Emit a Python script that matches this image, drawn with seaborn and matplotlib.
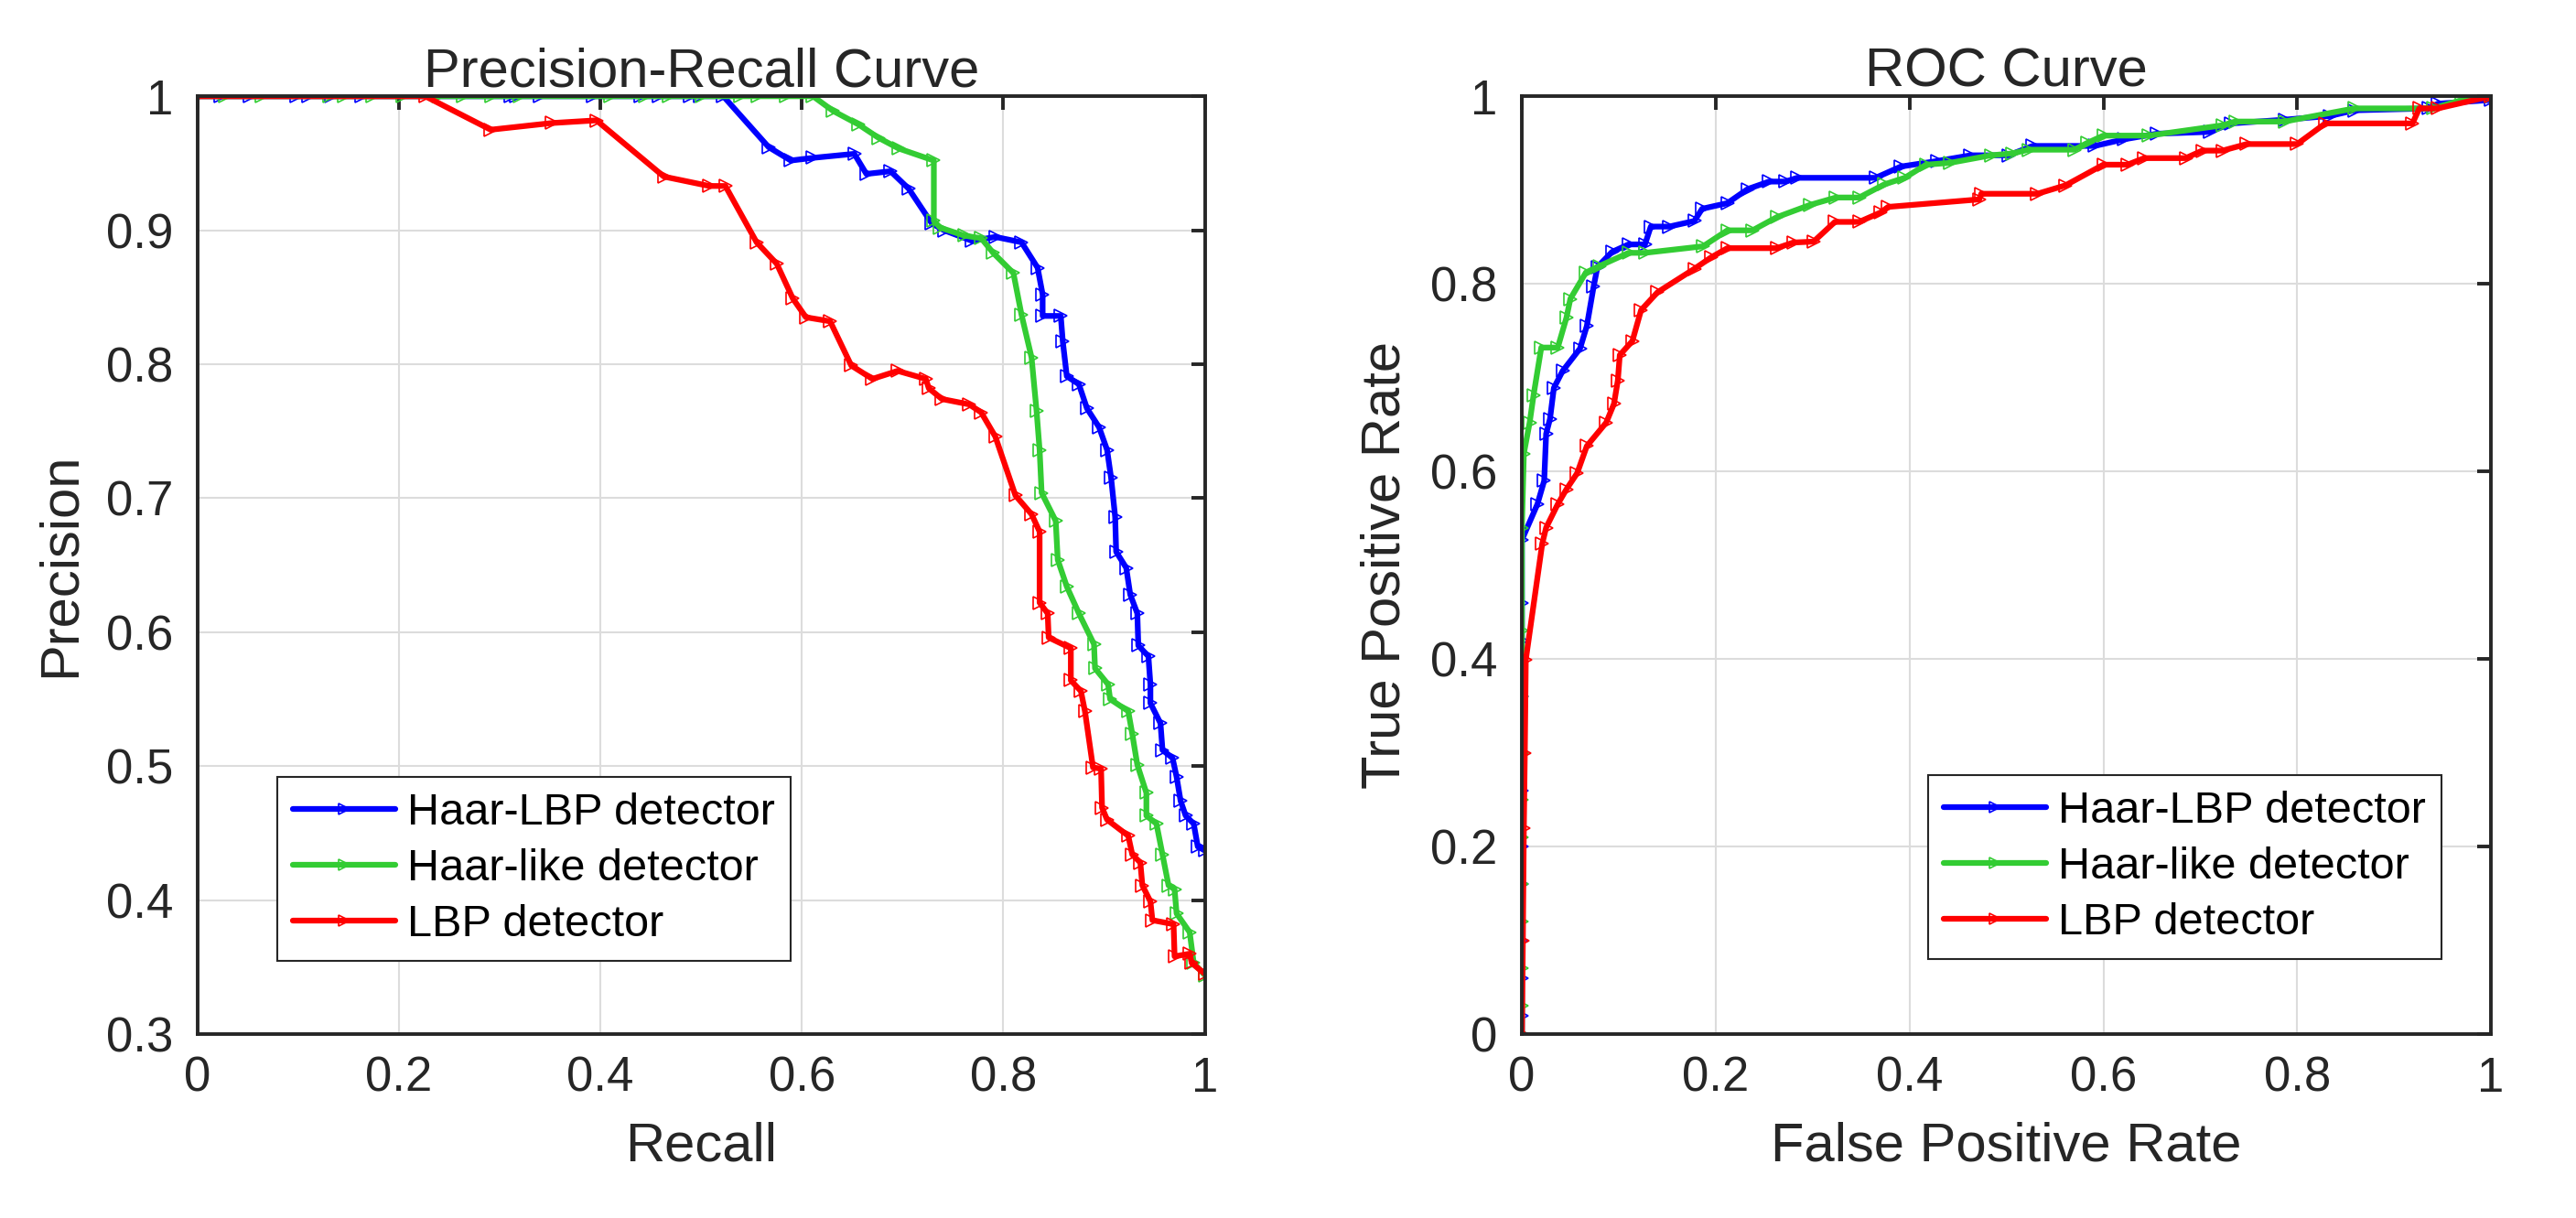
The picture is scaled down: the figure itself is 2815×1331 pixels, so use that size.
import numpy as np
import pandas as pd
import matplotlib
matplotlib.use("Agg")
import matplotlib.pyplot as plt
import seaborn as sns

# ---- Precision-Recall data (recall, precision) ----
pr_haarlbp_recall = [0, 0.023, 0.052, 0.098, 0.110, 0.133, 0.163, 0.311, 0.316, 0.340, 0.393,
                     0.440, 0.458, 0.489, 0.499, 0.522, 0.567, 0.589, 0.611, 0.652, 0.664, 0.688,
                     0.706, 0.729, 0.741, 0.769, 0.792, 0.818, 0.834, 0.839, 0.839, 0.857, 0.859,
                     0.863, 0.875, 0.883, 0.895, 0.903, 0.907, 0.911, 0.912, 0.922, 0.926, 0.933,
                     0.934, 0.944, 0.946, 0.946, 0.956, 0.958, 0.968, 0.972, 0.976, 0.981, 0.989,
                     0.993, 1.0]
pr_haarlbp_prec = [1, 1, 1, 1, 1, 1, 1, 1, 1, 1, 1,
                   1, 1, 1, 1, 1, 0.962, 0.952, 0.954, 0.957, 0.942, 0.944,
                   0.931, 0.905, 0.900, 0.892, 0.895, 0.891, 0.872, 0.852, 0.836, 0.836, 0.817,
                   0.791, 0.785, 0.767, 0.753, 0.736, 0.715, 0.686, 0.660, 0.648, 0.628, 0.614,
                   0.590, 0.582, 0.561, 0.547, 0.532, 0.512, 0.506, 0.492, 0.474, 0.463, 0.457,
                   0.440, 0.437]

pr_haarlike_recall = [0, 0.027, 0.064, 0.131, 0.145, 0.174, 0.204, 0.239, 0.264, 0.292, 0.320,
                      0.410, 0.444, 0.468, 0.501, 0.539, 0.556, 0.584, 0.611, 0.631, 0.656,
                      0.676, 0.696, 0.731, 0.731, 0.737, 0.761, 0.778, 0.790, 0.810, 0.818,
                      0.828, 0.833, 0.836, 0.838, 0.852, 0.854, 0.863, 0.875, 0.890, 0.891,
                      0.904, 0.906, 0.924, 0.928, 0.933, 0.942, 0.942, 0.952, 0.958, 0.964,
                      0.970, 0.972, 0.985, 0.989, 1.0]
pr_haarlike_prec = [1, 1, 1, 1, 1, 1, 1, 1, 1, 1, 1,
                    1, 1, 1, 1, 1, 1, 1, 1, 0.989, 0.979,
                    0.969, 0.961, 0.952, 0.907, 0.902, 0.896, 0.894, 0.883, 0.868, 0.837,
                    0.805, 0.765, 0.736, 0.704, 0.683, 0.654, 0.634, 0.614, 0.591, 0.573,
                    0.561, 0.550, 0.541, 0.524, 0.501, 0.480, 0.463, 0.457, 0.434, 0.411,
                    0.408, 0.390, 0.376, 0.353, 0.344]

pr_lbp_recall = [0, 0.226, 0.291, 0.352, 0.396, 0.463, 0.508, 0.524, 0.555, 0.575, 0.591,
                 0.604, 0.628, 0.649, 0.670, 0.695, 0.723, 0.726, 0.739, 0.766, 0.778, 0.792,
                 0.812, 0.828, 0.836, 0.836, 0.844, 0.845, 0.867, 0.867, 0.877, 0.881, 0.889,
                 0.897, 0.898, 0.903, 0.924, 0.928, 0.936, 0.938, 0.946, 0.948, 0.969, 0.970,
                 0.985, 0.987, 1.0]
pr_lbp_prec = [1, 1, 0.975, 0.980, 0.982, 0.940, 0.933, 0.933, 0.891, 0.875, 0.849,
               0.835, 0.832, 0.799, 0.789, 0.795, 0.789, 0.782, 0.774, 0.770, 0.764, 0.746,
               0.702, 0.688, 0.675, 0.622, 0.614, 0.596, 0.588, 0.564, 0.556, 0.541, 0.499,
               0.498, 0.469, 0.460, 0.448, 0.434, 0.428, 0.411, 0.399, 0.385, 0.382, 0.358,
               0.360, 0.353, 0.345]

# ---- ROC data (fpr, tpr) ----
roc_haarlbp_fpr = [0, 0, 0, 0, 0, 0, 0, 0, 0, 0, 0, 0, 0.016, 0.023, 0.025, 0.029, 0.033,
                   0.042, 0.060, 0.067, 0.074, 0.078, 0.093, 0.110, 0.127, 0.133, 0.152, 0.178,
                   0.186, 0.212, 0.233, 0.255, 0.272, 0.284, 0.365, 0.391, 0.429, 0.463, 0.502,
                   0.527, 0.591, 0.621, 0.655, 0.710, 0.732, 0.787, 0.834, 0.859, 0.936, 0.945,
                   1.0]
roc_haarlbp_tpr = [0, 0.02, 0.06, 0.10, 0.16, 0.20, 0.26, 0.30, 0.36, 0.42, 0.46, 0.527, 0.565,
                   0.590, 0.640, 0.656, 0.689, 0.707, 0.731, 0.755, 0.797, 0.818, 0.834, 0.842,
                   0.842, 0.861, 0.861, 0.867, 0.880, 0.886, 0.901, 0.909, 0.909, 0.913, 0.913,
                   0.925, 0.931, 0.937, 0.937, 0.947, 0.947, 0.954, 0.960, 0.962, 0.971, 0.975,
                   0.979, 0.985, 0.987, 0.992, 0.996]

roc_haarlike_fpr = [0, 0, 0, 0, 0, 0, 0, 0, 0, 0, 0, 0.002, 0.008, 0.012, 0.020, 0.037, 0.046,
                    0.050, 0.066, 0.080, 0.110, 0.127, 0.187, 0.212, 0.238, 0.263, 0.297, 0.324,
                    0.348, 0.374, 0.395, 0.417, 0.442, 0.484, 0.506, 0.523, 0.570, 0.583, 0.600,
                    0.647, 0.723, 0.736, 0.787, 0.859, 0.940, 0.970, 1.0]
roc_haarlike_tpr = [0, 0.03, 0.07, 0.12, 0.16, 0.21, 0.25, 0.30, 0.36, 0.43, 0.54, 0.619, 0.652,
                    0.681, 0.732, 0.732, 0.764, 0.784, 0.812, 0.819, 0.833, 0.833, 0.840, 0.857,
                    0.857, 0.871, 0.884, 0.892, 0.892, 0.906, 0.913, 0.927, 0.929, 0.937, 0.939,
                    0.943, 0.943, 0.950, 0.958, 0.958, 0.969, 0.973, 0.973, 0.987, 0.987, 0.996,
                    1.0]

roc_lbp_fpr = [0, 0.001, 0.002, 0.003, 0.004, 0.021, 0.025, 0.037, 0.046, 0.057, 0.067, 0.087,
               0.095, 0.099, 0.101, 0.114, 0.123, 0.140, 0.178, 0.195, 0.212, 0.263, 0.280,
               0.301, 0.323, 0.348, 0.370, 0.378, 0.472, 0.474, 0.532, 0.561, 0.600, 0.625,
               0.642, 0.685, 0.702, 0.723, 0.748, 0.800, 0.829, 0.919, 0.926, 0.945, 1.0]
roc_lbp_tpr = [0, 0.10, 0.22, 0.30, 0.399, 0.523, 0.540, 0.565, 0.581, 0.598, 0.627, 0.652,
               0.672, 0.697, 0.724, 0.739, 0.772, 0.791, 0.816, 0.828, 0.838, 0.838, 0.844,
               0.845, 0.866, 0.866, 0.876, 0.882, 0.890, 0.896, 0.896, 0.905, 0.927, 0.927,
               0.934, 0.934, 0.942, 0.942, 0.949, 0.949, 0.971, 0.971, 0.987, 0.987, 1.0]

LABELS = ["Haar-LBP detector", "Haar-like detector", "LBP detector"]
COLORS = ["#0000FF", "#33CC33", "#FF0000"]

sns.set_theme(style="white")
plt.rcParams["font.family"] = ["Liberation Sans", "DejaVu Sans"]

fig = plt.figure(figsize=(28.15, 13.31), dpi=100)
ax1 = fig.add_axes([0.0767, 0.151, 0.391, 0.770])
ax2 = fig.add_axes([0.5908, 0.151, 0.3762, 0.770])

pr = [(pr_haarlbp_recall, pr_haarlbp_prec), (pr_haarlike_recall, pr_haarlike_prec),
      (pr_lbp_recall, pr_lbp_prec)]
roc = [(roc_haarlbp_fpr, roc_haarlbp_tpr), (roc_haarlike_fpr, roc_haarlike_tpr),
       (roc_lbp_fpr, roc_lbp_tpr)]


def draw(ax, series):
    for (x, y), lab, col in zip(series, LABELS, COLORS):
        df = pd.DataFrame({"x": x, "y": y})
        sns.lineplot(data=df, x="x", y="y", ax=ax, sort=False, estimator=None,
                     color=col, label=lab, lw=4.5, marker=">", markersize=10,
                     markerfacecolor="none", markeredgecolor=col, markeredgewidth=1.2)


draw(ax1, pr)
draw(ax2, roc)

for ax in (ax1, ax2):
    ax.set_xlim(0, 1)
    ax.set_xticks(np.arange(0, 1.01, 0.2))
    ax.set_xticklabels(["0", "0.2", "0.4", "0.6", "0.8", "1"])
    ax.grid(True, color="#dcdcdc", lw=1.5)
    for s in ax.spines.values():
        s.set_color("#262626")
        s.set_linewidth(2.8)
    ax.tick_params(direction="in", length=11, width=2.8, colors="#262626",
                   labelsize=38, top=True, right=True)
    ax.tick_params(axis="x", pad=17)
    ax.tick_params(axis="y", pad=19)
    for t in ax.get_xticklabels() + ax.get_yticklabels():
        t.set_color("#262626")

ax1.set_ylim(0.3, 1)
ax1.set_yticks(np.arange(0.3, 1.01, 0.1))
ax1.set_yticklabels(["0.3", "0.4", "0.5", "0.6", "0.7", "0.8", "0.9", "1"])
ax2.set_ylim(0, 1)
ax2.set_yticks(np.arange(0, 1.01, 0.2))
ax2.set_yticklabels(["0", "0.2", "0.4", "0.6", "0.8", "1"])

ax1.set_title("Precision-Recall Curve", fontsize=43, pad=8)
ax2.set_title("ROC Curve", fontsize=43, pad=8)
ax1.set_xlabel("Recall", fontsize=43, color="#262626", labelpad=16)
ax1.set_ylabel("Precision", fontsize=43, color="#262626", labelpad=16)
ax2.set_xlabel("False Positive Rate", fontsize=43, color="#262626", labelpad=16)
ax2.set_ylabel("True Positive Rate", fontsize=43, color="#262626", labelpad=16)

leg_kw = dict(fontsize=35, frameon=True, fancybox=False, framealpha=1,
              edgecolor="#262626", labelcolor="black", handlelength=2.3,
              borderpad=0.35, borderaxespad=0, labelspacing=0.33, handletextpad=0.27)
l1 = ax1.legend(loc="lower left", bbox_to_anchor=(0.079, 0.078), **leg_kw)
l2 = ax2.legend(loc="lower right", bbox_to_anchor=(0.949, 0.080), **leg_kw)
for lg in (l1, l2):
    lg.get_frame().set_linewidth(1.5)
    for h in lg.legend_handles:
        h.set_markersize(8)

fig.savefig("out.png", dpi=100, facecolor="white")
